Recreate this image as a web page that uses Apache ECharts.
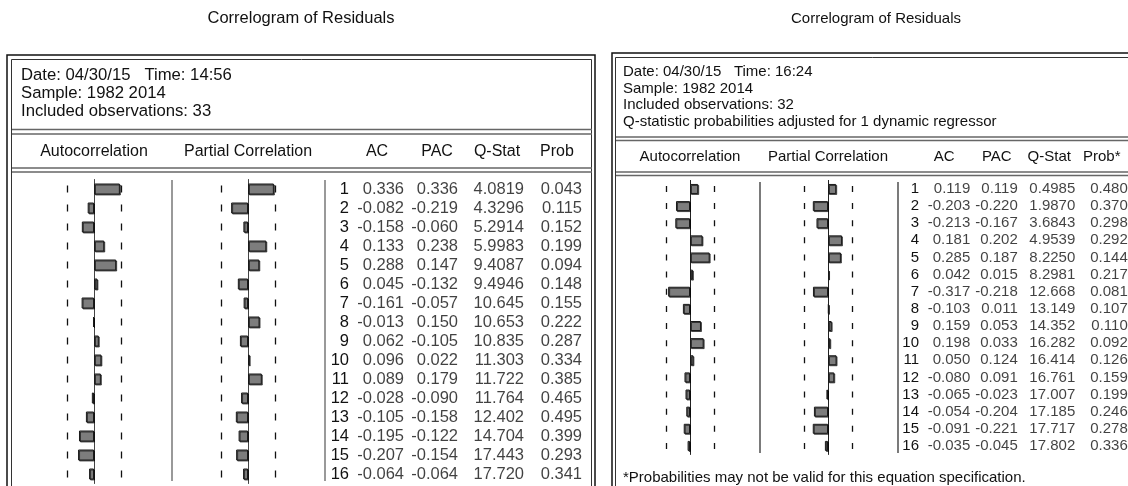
<!DOCTYPE html>
<html>
<head>
<meta charset="utf-8">
<script src="https://cdn.jsdelivr.net/npm/echarts@6/dist/echarts.min.js"></script>
<style>
  html, body { margin: 0; padding: 0; background: #fff; }
  #chart { width: 1128px; height: 486px; }
</style>
</head>
<body>
<div id="chart"></div>
<script>
// lags shared by both correlograms
const lags = ['1', '2', '3', '4', '5', '6', '7', '8', '9', '10', '11', '12', '13', '14', '15', '16'];

// left correlogram (33 obs)
const obsLeft = 33;
const headersLeft = ['AC', 'PAC', 'Q-Stat', 'Prob'];
const acfLeft = [0.336, -0.082, -0.158, 0.133, 0.288, 0.045, -0.161, -0.013, 0.062, 0.096, 0.089, -0.028, -0.105, -0.195, -0.207, -0.064];
const pacfLeft = [0.336, -0.219, -0.060, 0.238, 0.147, -0.132, -0.057, 0.150, -0.105, 0.022, 0.179, -0.090, -0.158, -0.122, -0.154, -0.064];
const qLeft = [4.0819, 4.3296, 5.2914, 5.9983, 9.4087, 9.4946, 10.645, 10.653, 10.835, 11.303, 11.722, 11.764, 12.402, 14.704, 17.443, 17.720];
const probLeft = [0.043, 0.115, 0.152, 0.199, 0.094, 0.148, 0.155, 0.222, 0.287, 0.334, 0.385, 0.465, 0.495, 0.399, 0.293, 0.341];

// right correlogram (32 obs)
const obsRight = 32;
const headersRight = ['AC', 'PAC', 'Q-Stat', 'Prob*'];
const acfRight = [0.119, -0.203, -0.213, 0.181, 0.285, 0.042, -0.317, -0.103, 0.159, 0.198, 0.050, -0.080, -0.065, -0.054, -0.091, -0.035];
const pacfRight = [0.119, -0.220, -0.167, 0.202, 0.187, 0.015, -0.218, 0.011, 0.053, 0.033, 0.124, 0.091, -0.023, -0.204, -0.221, -0.045];
const qRight = [0.4985, 1.9870, 3.6843, 4.9539, 8.2250, 8.2981, 12.668, 13.149, 14.352, 16.282, 16.414, 16.761, 17.007, 17.185, 17.717, 17.802];
const probRight = [0.480, 0.370, 0.298, 0.292, 0.144, 0.217, 0.081, 0.107, 0.110, 0.092, 0.126, 0.159, 0.199, 0.246, 0.278, 0.336];

const infoLeft = 'Date: 04/30/15   Time: 14:56\nSample: 1982 2014\nIncluded observations: 33';
const infoRight = 'Date: 04/30/15   Time: 16:24\nSample: 1982 2014\nIncluded observations: 32\nQ-statistic probabilities adjusted for 1 dynamic regressor';
const footRight = '*Probabilities may not be valid for this equation specification.';

const FONT = '"Liberation Sans", Arial, sans-serif';
const fmt3 = v => v.toFixed(3);
const fmtQ = v => (v < 10 ? v.toFixed(4) : v.toFixed(3));

// layout of each panel
const panels = [
  {
    acf: acfLeft, pacf: pacfLeft, q: qLeft, prob: probLeft, nobs: obsLeft, headers: headersLeft,
    top: 179.5, rowH: 19, acfX: 17, pacfX: 171, plotW: 154, tableX: 347, tableW: 240,
    lagOffset: -10, offsets: [27, 21, 27, 25], font: 16, valFont: 16.5, gap: 19.5, barW: 11,
    dash: 7, zero: '#444'
  },
  {
    acf: acfRight, pacf: pacfRight, q: qRight, prob: probRight, nobs: obsRight, headers: headersRight,
    top: 180.4, rowH: 17.13, acfX: 621, pacfX: 759, plotW: 138, tableX: 918, tableW: 217,
    lagOffset: -9, offsets: [26, 21, 26, 26], font: 15, valFont: 15, gap: 16, barW: 10,
    dash: 6, zero: '#222'
  }
];

const grid = [], xAxis = [], yAxis = [], series = [];

panels.forEach(p => {
  const h = p.rowH * lags.length;
  const bound = 2 / Math.sqrt(p.nobs);
  const dashOff = p.rowH - (p.rowH - p.dash) / 2;
  const plots = [[p.acfX, p.acf, 'Autocorrelation'], [p.pacfX, p.pacf, 'Partial Correlation']];
  plots.forEach(([x, vals, name]) => {
    const gi = grid.length;
    grid.push({ left: x, top: p.top, width: p.plotW, height: h });
    xAxis.push({
      gridIndex: gi, type: 'value', min: -1, max: 1, position: 'top',
      name: name, nameLocation: 'middle', nameGap: p.gap,
      nameTextStyle: { fontSize: p.font, color: '#111', fontFamily: FONT },
      axisLine: { show: false }, axisTick: { show: false },
      axisLabel: { show: false }, splitLine: { show: false }
    });
    yAxis.push({
      gridIndex: gi, type: 'category', data: lags, inverse: true,
      axisLine: { onZero: true, lineStyle: { color: p.zero, width: 1 } },
      axisTick: { show: false }, axisLabel: { show: false }
    });
    series.push({
      type: 'bar', xAxisIndex: gi, yAxisIndex: gi, data: vals, barWidth: p.barW,
      itemStyle: {
        color: '#7d7d7d', borderColor: '#1a1a1a', borderWidth: 1,
        shadowColor: 'rgba(0,0,0,0.6)', shadowOffsetX: 1, shadowOffsetY: 1, shadowBlur: 0
      },
      markLine: {
        silent: true, symbol: ['none', 'none'], label: { show: false },
        lineStyle: { color: '#111', width: 1.3, type: [p.dash, p.rowH - p.dash], dashOffset: dashOff },
        data: [{ xAxis: -bound }, { xAxis: bound }]
      }
    });
  });

  // numeric table
  const ti = grid.length;
  grid.push({ left: p.tableX, top: p.top, width: p.tableW, height: h });
  xAxis.push({
    gridIndex: ti, type: 'category', data: p.headers, position: 'top',
    axisLine: { show: false }, axisTick: { show: false }, splitLine: { show: false },
    axisLabel: { margin: p.gap, fontSize: p.font, color: '#111', fontFamily: FONT, interval: 0 }
  });
  yAxis.push({
    gridIndex: ti, type: 'category', data: lags, inverse: true, offset: p.lagOffset,
    axisLine: { show: false }, axisTick: { show: false }, splitLine: { show: false },
    axisLabel: { margin: 8, fontSize: p.valFont, color: '#111', fontFamily: FONT, align: 'right', interval: 0 }
  });
  const cols = [[p.acf, fmt3], [p.pacf, fmt3], [p.q, fmtQ], [p.prob, fmt3]];
  cols.forEach(([vals, f], j) => {
    series.push({
      type: 'scatter', xAxisIndex: ti, yAxisIndex: ti, symbolSize: 0, silent: true,
      data: vals.map((v, i) => [j, i]),
      label: {
        show: true, position: 'inside', align: 'right', verticalAlign: 'middle',
        offset: [p.offsets[j], 0], fontSize: p.valFont, color: '#111', fontFamily: FONT,
        formatter: prm => f(vals[prm.dataIndex])
      }
    });
  });
});

function txt(x, y, text, size, align, va, lh) {
  return {
    type: 'text', x: x, y: y, silent: true,
    style: {
      text: text, fill: '#111', font: size + 'px ' + FONT,
      textAlign: align, align: align, textVerticalAlign: va, verticalAlign: va,
      lineHeight: lh || size
    }
  };
}
function line(x1, y1, x2, y2, color, w) {
  return { type: 'line', silent: true, shape: { x1, y1, x2, y2 }, style: { stroke: color, lineWidth: w } };
}
function box(x, y, w, h, color, lw) {
  return { type: 'rect', silent: true, shape: { x, y, width: w, height: h }, style: { fill: 'none', stroke: color, lineWidth: lw } };
}

const graphic = [
  txt(301, 18, 'Correlogram of Residuals', 16.5, 'center', 'middle'),
  txt(876, 19, 'Correlogram of Residuals', 15, 'center', 'middle'),
  // left frame
  box(7, 55, 588, 500, '#111', 1.5),
  box(11.5, 59.5, 580, 500, '#333', 1),
  line(12, 129.5, 592, 129.5, '#666', 1.5),
  line(12, 134, 592, 134, '#666', 1.5),
  line(12, 168, 592, 168, '#666', 1.5),
  line(12, 172, 592, 172, '#666', 1.5),
  line(172, 180, 172, 481, '#777', 1.5),
  line(325, 180, 325, 481, '#777', 1.5),
  txt(21, 66, infoLeft, 16.7, 'left', 'top', 18),
  // right frame
  box(612, 53, 600, 500, '#111', 1.5),
  box(615.5, 57.5, 600, 500, '#333', 1),
  line(616, 137, 1128, 137, '#666', 1.5),
  line(616, 140.5, 1128, 140.5, '#666', 1.5),
  line(616, 172, 1128, 172, '#666', 1.5),
  line(616, 175.5, 1128, 175.5, '#666', 1.5),
  line(760, 182, 760, 453, '#222', 1.2),
  line(898, 182, 898, 453, '#222', 1.2),
  txt(623, 64, infoRight, 15, 'left', 'top', 16.5),
  txt(623, 478, footRight, 15, 'left', 'middle')
];

const chart = echarts.init(document.getElementById('chart'), null, { renderer: 'canvas' });
chart.setOption({
  backgroundColor: '#fff',
  animation: false,
  textStyle: { fontFamily: FONT },
  grid: grid,
  xAxis: xAxis,
  yAxis: yAxis,
  series: series,
  graphic: graphic
});
</script>
</body>
</html>
